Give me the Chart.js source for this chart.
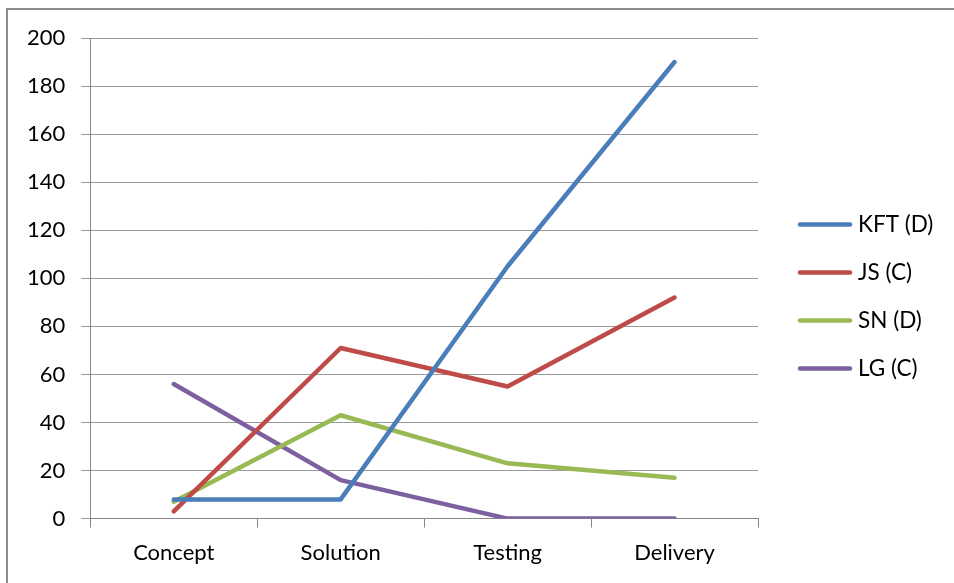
<!DOCTYPE html>
<html>
<head>
<meta charset="utf-8">
<script src="https://cdn.jsdelivr.net/npm/chart.js@4.4.1/dist/chart.umd.min.js"></script>
<style>
  html, body { margin: 0; padding: 0; background: #fff; }
  #wrap { width: 954px; height: 583px; position: relative; }
</style>
</head>
<body>
<div id="wrap"><canvas id="myChart" width="954" height="583"></canvas></div>
<script>
const categories = ['Concept', 'Solution', 'Testing', 'Delivery']
const kft = [8, 8, 105, 190]
const js = [3, 71, 55, 92]
const sn = [7, 43, 23, 17]
const lg = [56, 16, 0, 0]
const seriesNames = ['KFT (D)', 'JS (C)', 'SN (D)', 'LG (C)']
const seriesColors = ['#4A7EBB', '#BE4B48', '#98B954', '#7D60A0']

const ctx = document.getElementById('myChart')

Chart.defaults.font.family = "Lato, 'Open Sans', sans-serif"
Chart.defaults.font.size = 22
Chart.defaults.color = '#000'

// gray frame round the chart, as in the original export
const framePlugin = {
    id: 'frame',
    beforeDraw(chart){
        const c = chart.ctx
        c.save()
        c.strokeStyle = '#8c8c8c'
        c.lineWidth = 2
        c.beginPath()
        c.moveTo(7, chart.height)
        c.lineTo(7, 9)
        c.lineTo(chart.width, 9)
        c.stroke()
        c.restore()
    }
}

// excel style legend: line sample + label, stacked on the right
const sideLegend = {
    id: 'sideLegend',
    afterDraw(chart){
        const c = chart.ctx
        const area = chart.chartArea
        const sets = chart.data.datasets
        const step = 48
        const x0 = area.right + 40
        let y = chart.height / 2 + 5 - step * (sets.length - 1) / 2
        c.save()
        c.font = "22.5px Lato, 'Open Sans', sans-serif"
        c.textBaseline = 'middle'
        c.fillStyle = '#000'
        c.lineCap = 'round'
        sets.forEach(ds => {
            c.strokeStyle = ds.borderColor
            c.lineWidth = 4.5
            c.beginPath()
            c.moveTo(x0 + 2, y)
            c.lineTo(x0 + 52, y)
            c.stroke()
            c.fillText(ds.label, x0 + 60, y)
            y += step
        })
        c.restore()
    }
}

const makeSet = (label, data, color) => ({
    label: label,
    data: data,
    borderColor: color,
    backgroundColor: color,
    borderWidth: 4.5,
    pointRadius: 0,
    tension: 0,
    borderCapStyle: 'round',
    borderJoinStyle: 'round'
})

new Chart(ctx, {
    type: 'line',
    data: {
        labels: categories,
        datasets: [
            makeSet(seriesNames[0], kft, seriesColors[0]),
            makeSet(seriesNames[1], js, seriesColors[1]),
            makeSet(seriesNames[2], sn, seriesColors[2]),
            makeSet(seriesNames[3], lg, seriesColors[3])
        ]
    },
    plugins: [framePlugin, sideLegend],
    options: {
        responsive: false,
        animation: false,
        layout: {
            padding: { left: 11, top: 38, right: 196, bottom: 5 }
        },
        plugins: {
            tooltip: { enabled: false },
            legend: { display: false }
        },
        scales: {
            x: {
                offset: true,
                grid: {
                    offset: true,
                    drawOnChartArea: false,
                    tickLength: 9,
                    color: '#888'
                },
                border: { color: '#888', width: 1 },
                ticks: { padding: 12 }
            },
            y: {
                min: 0,
                max: 200,
                ticks: { stepSize: 20, padding: 16 },
                grid: {
                    color: '#999',
                    tickLength: 9
                },
                border: { color: '#888', width: 1 }
            }
        }
    }
})
</script>
</body>
</html>
